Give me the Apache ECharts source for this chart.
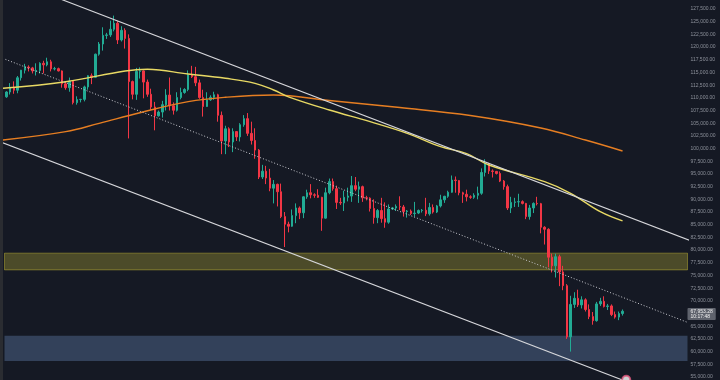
<!DOCTYPE html>
<html><head><meta charset="utf-8">
<script src="https://cdn.jsdelivr.net/npm/echarts@6/dist/echarts.min.js"></script>
<style>html,body{margin:0;padding:0;background:#151924;}#c{width:720px;height:380px;}</style>
</head><body><div id="c"></div>
<script>
// ---- categories (daily candles) ----
const dates = [
'2025-09-07','2025-09-08','2025-09-09','2025-09-10','2025-09-11','2025-09-12','2025-09-13','2025-09-14','2025-09-15','2025-09-16','2025-09-17','2025-09-18','2025-09-19','2025-09-20','2025-09-21','2025-09-22','2025-09-23','2025-09-24','2025-09-25','2025-09-26','2025-09-27','2025-09-28','2025-09-29','2025-09-30',
'2025-10-01','2025-10-02','2025-10-03','2025-10-04','2025-10-05','2025-10-06','2025-10-07','2025-10-08','2025-10-09','2025-10-10','2025-10-11','2025-10-12','2025-10-13','2025-10-14','2025-10-15','2025-10-16','2025-10-17','2025-10-18','2025-10-19','2025-10-20','2025-10-21','2025-10-22','2025-10-23','2025-10-24','2025-10-25','2025-10-26','2025-10-27','2025-10-28','2025-10-29','2025-10-30','2025-10-31',
'2025-11-01','2025-11-02','2025-11-03','2025-11-04','2025-11-05','2025-11-06','2025-11-07','2025-11-08','2025-11-09','2025-11-10','2025-11-11','2025-11-12','2025-11-13','2025-11-14','2025-11-15','2025-11-16','2025-11-17','2025-11-18','2025-11-19','2025-11-20','2025-11-21','2025-11-22','2025-11-23','2025-11-24','2025-11-25','2025-11-26','2025-11-27','2025-11-28','2025-11-29','2025-11-30',
'2025-12-01','2025-12-02','2025-12-03','2025-12-04','2025-12-05','2025-12-06','2025-12-07','2025-12-08','2025-12-09','2025-12-10','2025-12-11','2025-12-12','2025-12-13','2025-12-14','2025-12-15','2025-12-16','2025-12-17','2025-12-18','2025-12-19','2025-12-20','2025-12-21','2025-12-22','2025-12-23','2025-12-24','2025-12-25','2025-12-26','2025-12-27','2025-12-28','2025-12-29','2025-12-30','2025-12-31',
'2026-01-01','2026-01-02','2026-01-03','2026-01-04','2026-01-05','2026-01-06','2026-01-07','2026-01-08','2026-01-09','2026-01-10','2026-01-11','2026-01-12','2026-01-13','2026-01-14','2026-01-15','2026-01-16','2026-01-17','2026-01-18','2026-01-19','2026-01-20','2026-01-21','2026-01-22','2026-01-23','2026-01-24','2026-01-25','2026-01-26','2026-01-27','2026-01-28','2026-01-29','2026-01-30','2026-01-31',
'2026-02-01','2026-02-02','2026-02-03','2026-02-04','2026-02-05','2026-02-06','2026-02-07','2026-02-08','2026-02-09','2026-02-10','2026-02-11','2026-02-12','2026-02-13','2026-02-14','2026-02-15','2026-02-16','2026-02-17','2026-02-18','2026-02-19','2026-02-20'
];
// ---- OHLC values: [open, close, low, high] ----
const candlesSep = [
[110200,111150,110000,111300],[111150,112050,110650,112900],[112050,111500,110800,113250],[111500,113950,110900,114300],
[113950,115450,113400,115500],[115450,116050,114800,116700],[116050,115900,115200,116400],[115900,115300,114800,116100],
[115300,115400,114400,116800],[115400,116800,114800,117000],[116800,116500,114800,117300],[116500,117100,116200,117900],
[117100,115700,115200,117500],[115700,115750,115400,116100],[115750,115300,115200,115950],[115300,112750,112000,115400],
[112750,112000,111600,113300],[112000,113300,111200,114000],[113300,109050,108700,113500],[109050,109650,108650,110300],
[109650,109700,109100,109800],[109700,112150,109300,112400],[112150,114350,111600,114450],[114350,114050,112700,114800]
];
const candlesOct = [
[114050,118600,113900,118700],[118600,120600,118300,121000],[120600,122300,119300,123900],[122300,122400,121600,122800],
[122400,123500,122000,125200],[123500,124700,123100,126200],[124700,121400,120600,125100],[121400,123300,121100,124100],
[123300,121700,119700,123700],[121700,113200,102000,122500],[113200,110700,109700,113400],[110700,115200,109600,115900],
[115200,115300,113800,116000],[115300,113100,109900,115400],[113100,110700,110200,113600],[110700,108200,107600,111800],
[108200,106450,103600,109200],[106450,107200,106300,107500],[107200,108650,106100,109400],[108650,110550,107500,111700],
[110550,108450,107500,114000],[108450,107550,106700,109100],[107550,110050,107300,111100],[110050,111050,109700,112000],
[111050,111650,110800,111900],[111650,114550,111300,115400],[114550,114150,113900,116300],[114150,112950,112300,116100],
[112950,110050,109800,113600],[110050,108300,106300,111600],[108300,109600,108200,111100]
];
const candlesNov = [
[109600,110100,109400,110500],[110100,110600,109600,111200],[110600,106550,105300,110800],[106550,101500,98900,107300],
[101500,103900,98900,104500],[103900,101300,100300,104200],[101300,103350,99300,104000],[103350,102300,101500,103400],
[102300,104700,101400,105000],[104700,105900,104300,106600],[105900,103000,102500,107000],[103000,101600,100800,105300],
[101600,99700,98000,104000],[99700,94400,94000,99900],[94400,95550,94000,96800],[95550,94200,93000,96600],
[94200,92200,91600,96000],[92200,92950,89200,93800],[92950,91500,88600,93100],[91500,86600,86300,93100],
[86600,85100,80600,87500],[85100,84700,83500,85600],[84700,86800,84600,88000],[86800,88300,85300,89200],
[88300,87350,86100,88600],[87350,90500,86300,90600],[90500,91300,90100,91900],[91300,90900,90200,93000],
[90900,90800,90300,91200],[90800,90400,90300,92000]
];
const candlesDec = [
[90400,86300,83800,90500],[86300,91300,86200,92300],[91300,93500,91000,94100],[93500,92100,91700,94100],
[92100,89400,88100,92700],[89400,89300,88900,90300],[89300,90400,87700,91700],[90400,90650,89600,92300],
[90650,92700,89500,94600],[92700,92000,91600,94400],[92000,92500,89300,93500],[92500,90300,89500,92700],
[90300,90250,89800,90700],[90250,88200,87600,90400],[88200,86400,85200,90000],[86400,87800,85300,88100],
[87800,86200,85400,90300],[86200,85500,84400,89400],[85500,88100,85200,89000],[88100,88300,87900,88500],
[88300,88600,87700,89000],[88600,88500,87900,90600],[88500,87600,86600,88900],[87600,87700,86400,87900],
[87700,87200,86900,88000],[87200,87300,86600,89500],[87300,87800,87100,88000],[87800,87850,87400,88100],
[87850,87150,86700,90300],[87150,88400,86800,89300],[88400,87500,87200,89000]
];
const candlesJan = [
[87500,88700,87300,88900],[88700,89900,88400,90900],[89900,90600,89300,90700],[90600,91400,90300,91700],
[91400,93800,91300,94700],[93800,93700,91300,94500],[93700,91300,90800,93800],[91300,91000,89300,91500],
[91000,90500,89600,91900],[90500,90400,90100,90800],[90400,90800,90100,91200],[90800,91200,90000,92500],
[91200,95300,90900,96100],[95300,97000,94500,97900],[97000,95600,95000,97200],[95600,95500,94300,95900],
[95500,95100,94900,95600],[95100,93600,93400,95500],[93600,92500,91900,93800],[92500,88300,87900,92900],
[88300,89400,87300,90500],[89400,89500,88500,90300],[89500,89550,88500,91100],[89550,89200,89000,89800],
[89200,86600,86100,89300],[86600,88300,86000,88900],[88300,89200,87300,89400],[89200,89150,88800,90500],
[89150,84500,83300,89300],[84500,84100,81100,84700],[84100,78600,76600,84300]
];
const candlesFeb = [
[78600,76900,75600,79300],[76900,78700,74600,79300],[78700,75700,72900,79100],[75700,73000,72100,76900],
[73000,62900,62500,73300],[62900,69300,60000,71000],[69300,70500,68600,71700],[70500,69200,68800,72200],
[69200,70200,68500,70900],[70200,68300,67900,70500],[68300,66900,66400,69300],[66900,66100,65300,67800],
[66100,69400,65900,69800],[69400,69900,69000,70600],[69900,68900,68700,70900],[68900,69000,68200,69400],
[69000,67300,67000,69300],[67300,66800,66500,67900],[66800,67500,66200,67900],[67500,67953.28,67100,68300]
];
// ---- moving averages: [date, value] ----
const ma100 = [
['2025-09-06',111880],['2025-09-23',113180],['2025-10-09',115290],['2025-10-15',115620],['2025-10-26',114690],
['2025-11-05',113850],['2025-11-13',112860],['2025-11-18',111540],['2025-11-22',110200],['2025-12-03',107600],
['2025-12-14',105300],['2025-12-24',103010],['2026-01-02',100370],['2026-01-09',99000],['2026-01-15',96770],
['2026-01-30',93480],['2026-02-06',91190],['2026-02-14',87560],['2026-02-20',85750]
];
const ma200 = [
['2025-09-06',101690],['2025-09-23',103330],['2025-10-02',104980],['2025-10-13',107070],['2025-10-26',109240],
['2025-11-05',110100],['2025-11-18',110560],['2025-12-03',109470],['2025-12-22',108090],['2026-01-10',106520],
['2026-01-29',104060],['2026-02-10',101690],['2026-02-20',99530]
];
// ---- channel (parallel lines) anchors: [date, price] ----
const channelUpper = [['2025-09-06',133830],['2026-03-10',81940]];
const channelMiddle = [['2025-09-06',117790],['2026-03-10',65620]];
const channelLower = [['2025-09-06',101160],['2026-03-10',49360]];
// ---- zones ----
const resistanceZone = [76100, 79400];
const supportZone = [58150, 63150];
// ---- price scale ----
const priceTicks = [55000,57500,60000,62500,65000,67500,70000,72500,75000,77500,80000,82500,85000,87500,90000,92500,95000,97500,100000,102500,105000,107500,110000,112500,115000,117500,120000,122500,125000,127500];
const lastPrice = 67953.28;
const barCountdown = '10:17:48';
const eventMarker = [['2026-02-21', 54470]];

const yMin = 54409, yMax = 129273;
const priceTagShiftPx = 2.8;
const ohlc = [].concat(candlesSep, candlesOct, candlesNov, candlesDec, candlesJan, candlesFeb);
const candleData = dates.map((d, i) => [d].concat(ohlc[i]));
const fmt = v => Number(v).toLocaleString('en-US', {minimumFractionDigits: 2, maximumFractionDigits: 2});
const visibleTicks = priceTicks.filter(v => v !== 67500);
const tagAnchor = lastPrice - priceTagShiftPx * (yMax - yMin) / 380;

const chart = echarts.init(document.getElementById('c'));
chart.setOption({
  animation: false,
  backgroundColor: '#151924',
  grid: {left: 4.5, top: 0, width: 683, height: 380},
  xAxis: {
    type: 'time', min: '2025-09-06 12:00', max: '2026-03-09 12:00',
    show: false, splitLine: {show: false}
  },
  yAxis: [{
    type: 'value', position: 'right', min: yMin, max: yMax,
    splitLine: {show: false}, axisLine: {show: false}, axisTick: {show: false},
    axisLabel: {
      customValues: visibleTicks, formatter: v => fmt(v), margin: 3,
      color: '#8d919b', fontSize: 5, fontFamily: 'Liberation Sans'
    }
  }, {
    type: 'value', position: 'right', min: yMin, max: yMax,
    splitLine: {show: false}, axisLine: {show: false}, axisTick: {show: false},
    axisLabel: {
      customValues: [tagAnchor], margin: 0,
      formatter: () => fmt(lastPrice) + '\n' + barCountdown,
      color: '#f0f0f0', fontSize: 5, fontFamily: 'Liberation Sans', lineHeight: 5,
      backgroundColor: '#5f636d', padding: [1, 3, 1, 3], borderRadius: 1
    }
  }],
  series: [
    {
      type: 'candlestick', name: 'BTC', data: candleData, z: 2,
      dimensions: ['date', 'open', 'close', 'lowest', 'highest'],
      encode: {x: 0, y: [1, 2, 3, 4]},
      barWidth: 2,
      itemStyle: {color: '#22ab94', color0: '#f23645', borderColor: '#22ab94', borderColor0: '#f23645', borderWidth: 1}
    },
    {
      type: 'line', name: 'zones', data: [], z: 3, silent: true,
      markArea: {
        silent: true,
        data: [
          [{yAxis: resistanceZone[0], itemStyle: {color: 'rgba(255,235,59,0.24)', borderColor: 'rgba(255,235,59,0.32)', borderWidth: 1}}, {yAxis: resistanceZone[1]}],
          [{yAxis: supportZone[0], itemStyle: {color: 'rgba(121,158,216,0.30)', borderWidth: 0}}, {yAxis: supportZone[1]}]
        ]
      }
    },
    {type: 'line', name: 'MA200', data: ma200, smooth: 0.4, showSymbol: false, z: 4,
     lineStyle: {color: '#e67e22', width: 1.4}},
    {type: 'line', name: 'MA100', data: ma100, smooth: 0.4, showSymbol: false, z: 4,
     lineStyle: {color: '#e8d964', width: 1.4}},
    {type: 'line', name: 'upper', data: channelUpper, showSymbol: false, z: 5,
     lineStyle: {color: '#d6d7db', width: 1.1}},
    {type: 'line', name: 'middle', data: channelMiddle, showSymbol: false, z: 5,
     lineStyle: {color: '#c9cad0', width: 1, type: [1, 2]}},
    {type: 'line', name: 'lower', data: channelLower, showSymbol: false, z: 5,
     lineStyle: {color: '#d6d7db', width: 1.1}},
    {type: 'scatter', name: 'event', data: eventMarker, symbol: 'emptyCircle', symbolSize: 8, z: 6,
     itemStyle: {color: '#e0587e', borderWidth: 1}}
  ],
  graphic: [{type: 'rect', left: 0, top: 0, shape: {width: 3, height: 380}, style: {fill: '#2a2c31'}, z: 100}]
});
</script></body></html>
